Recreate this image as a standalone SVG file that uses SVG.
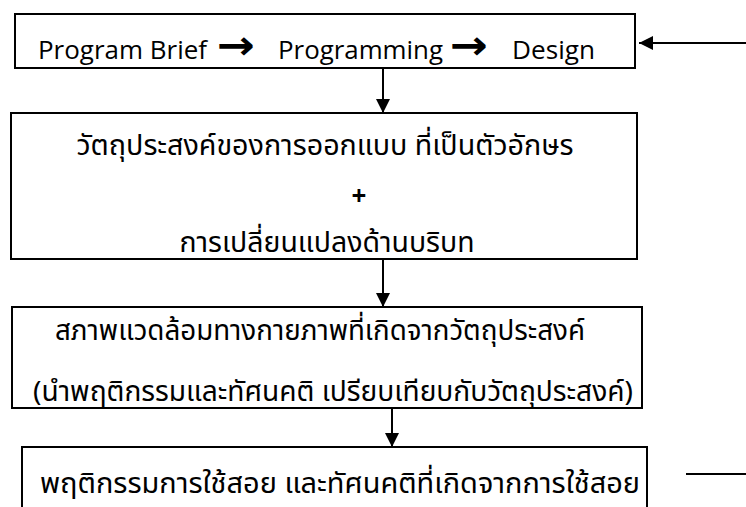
<svg xmlns="http://www.w3.org/2000/svg" width="746" height="507" viewBox="0 0 746 507">
<defs>
<marker id="ah" markerWidth="14" markerHeight="14" refX="14" refY="7" orient="auto" markerUnits="userSpaceOnUse">
<path d="M0,0 L14,7 L0,14 Z" fill="#000"/>
</marker>
<style>
.box{fill:#fff;stroke:#000;stroke-width:2}
.en{font-family:"Open Sans","Liberation Sans",sans-serif;font-size:26px;fill:#000}
.ar{font-family:"DejaVu Sans",sans-serif;font-size:40px;font-weight:bold;fill:#000}
.th{font-family:"Noto Sans Thai","Noto Sans","DejaVu Sans",sans-serif;font-size:28px;fill:#000}
.cn{stroke:#000;stroke-width:2;fill:none}
</style>
</defs>
<rect width="746" height="507" fill="#fff"/>
<g id="node1">
<rect class="box" x="15" y="14" width="620" height="54"/>
<text class="en" x="38" y="59" textLength="169" lengthAdjust="spacingAndGlyphs">Program Brief</text>
<text class="ar" x="217" y="59" textLength="38" lengthAdjust="spacingAndGlyphs">→</text>
<text class="en" x="278" y="59" textLength="165" lengthAdjust="spacingAndGlyphs">Programming</text>
<text class="ar" x="450" y="59" textLength="38" lengthAdjust="spacingAndGlyphs">→</text>
<text class="en" x="512" y="59" textLength="83" lengthAdjust="spacingAndGlyphs">Design</text>
</g>
<g id="node2">
<rect class="box" x="11" y="113" width="626" height="146"/>
<text class="th" x="325" y="155" text-anchor="middle" textLength="497" lengthAdjust="spacingAndGlyphs">วัตถุประสงค์ของการออกแบบ ที่เป็นตัวอักษร</text>
<text class="en" x="359" y="205" text-anchor="middle" font-weight="bold">+</text>
<text class="th" x="327" y="252" text-anchor="middle" textLength="295" lengthAdjust="spacingAndGlyphs">การเปลี่ยนแปลงด้านบริบท</text>
</g>
<g id="node3">
<rect class="box" x="12" y="307" width="630" height="101"/>
<text class="th" x="320" y="340" text-anchor="middle" textLength="530" lengthAdjust="spacingAndGlyphs">สภาพแวดล้อมทางกายภาพที่เกิดจากวัตถุประสงค์</text>
<text class="th" x="333" y="401" text-anchor="middle" textLength="600" lengthAdjust="spacingAndGlyphs">(นำพฤติกรรมและทัศนคติ เปรียบเทียบกับวัตถุประสงค์)</text>
</g>
<g id="node4">
<rect class="box" x="22" y="447" width="625" height="70"/>
<text class="th" x="340" y="493" text-anchor="middle" textLength="600" lengthAdjust="spacingAndGlyphs">พฤติกรรมการใช้สอย และทัศนคติที่เกิดจากการใช้สอย</text>
</g>
<g id="connectors">
<line class="cn" x1="746" y1="43" x2="639" y2="43" marker-end="url(#ah)"/>
<line class="cn" x1="383" y1="68" x2="383" y2="113" marker-end="url(#ah)"/>
<line class="cn" x1="383" y1="259" x2="383" y2="307" marker-end="url(#ah)"/>
<line class="cn" x1="392" y1="408" x2="392" y2="447" marker-end="url(#ah)"/>
<line class="cn" x1="686" y1="474" x2="746" y2="474"/>
</g>
</svg>
